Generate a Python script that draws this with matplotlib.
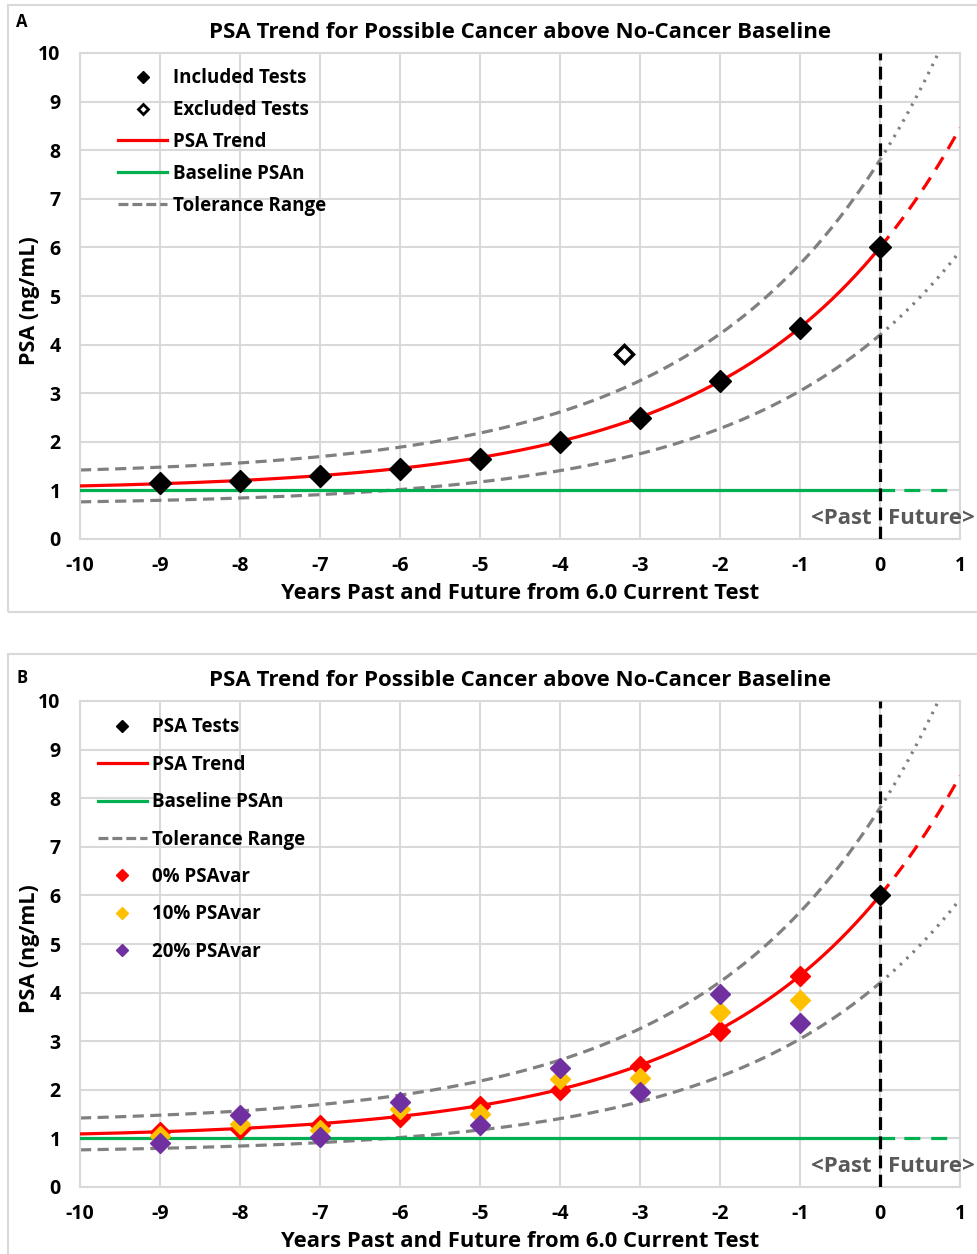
import numpy as np
import matplotlib.pyplot as plt
from matplotlib.lines import Line2D
from matplotlib.patches import Rectangle

plt.rcParams['font.family'] = ['Open Sans', 'DejaVu Sans']
plt.rcParams['font.weight'] = 'bold'
plt.rcParams['axes.unicode_minus'] = False

# ---------------- data ----------------
test_years = [-9, -8, -7, -6, -5, -4, -3, -2, -1, 0]
included_psa = [1.15, 1.2, 1.3, 1.45, 1.65, 2.0, 2.5, 3.25, 4.35, 6.0]
excluded_years = [-3.2]
excluded_psa = [3.8]

var_years = [-9, -8, -7, -6, -5, -4, -3, -2, -1]
psavar_0 = [1.13, 1.2, 1.28, 1.45, 1.67, 2.0, 2.5, 3.22, 4.35]
psavar_10 = [1.05, 1.3, 1.18, 1.6, 1.5, 2.22, 2.25, 3.6, 3.85]
psavar_20 = [0.9, 1.48, 1.02, 1.75, 1.28, 2.45, 1.95, 3.97, 3.38]
current_year = [0]
current_psa = [6.0]

# trend model parameters (exponential rise above baseline)
baseline_psan = 1.0
current_test = 6.0
growth_rate = 0.4
tolerance = 0.3

x_ticks = list(range(-10, 2))
y_ticks = list(range(0, 11))

title = "PSA Trend for Possible Cancer above No-Cancer Baseline"
xlabel = "Years Past and Future from 6.0 Current Test"
ylabel = "PSA (ng/mL)"

RED = '#FF0000'
GREEN = '#00B050'
GRAY = '#808080'
YELLOW = '#FFC000'
PURPLE = '#7030A0'
GRID = '#D9D9D9'


def trend(x):
    return baseline_psan + (current_test - baseline_psan) * np.exp(growth_rate * x)


x_past = np.linspace(-10, 0, 300)
x_fut = np.linspace(0, 1, 100)

W, H = 977, 1254
fig = plt.figure(figsize=(W / 100, H / 100), dpi=100)

# panel frames
fig.patches.append(Rectangle((8 / W, 1 - 612 / H), 1.2, (612 - 5) / H,
                             transform=fig.transFigure, fill=False,
                             edgecolor=GRID, linewidth=1.5))
fig.patches.append(Rectangle((8 / W, -0.1), 1.2, 0.1 + 1 - 654 / H,
                             transform=fig.transFigure, fill=False,
                             edgecolor=GRID, linewidth=1.5))

axA = fig.add_axes([80 / W, 1 - 539 / H, 880 / W, 486 / H])
axB = fig.add_axes([80 / W, 1 - 1187 / H, 880 / W, 486 / H])


def base_axes(ax, letter, letter_y):
    ax.set_xlim(-10, 1)
    ax.set_ylim(0, 10)
    ax.set_xticks(x_ticks)
    ax.set_yticks(y_ticks)
    ax.grid(True, color=GRID, linewidth=1.5)
    ax.set_axisbelow(True)
    for s in ax.spines.values():
        s.set_color(GRID)
        s.set_linewidth(1.5)
    ax.tick_params(length=0, labelsize=14, pad=12)
    ax.tick_params(axis='y', pad=14)
    for lab in ax.get_xticklabels() + ax.get_yticklabels():
        lab.set_fontweight('bold')
    ax.set_xlabel(xlabel, fontsize=15.8, fontweight='bold', labelpad=5)
    ax.set_ylabel(ylabel, fontsize=15.5, fontweight='bold')
    ax.yaxis.set_label_coords(-0.046, 0.49)
    ax.set_title(title, fontsize=16, fontweight='bold', pad=11)
    fig.text(22 / W, 1 - letter_y / H, letter, fontsize=12, fontweight='bold',
             ha='center', va='center')

    # curves
    ax.plot(x_past, trend(x_past) * (1 + tolerance), color=GRAY, lw=2.3,
            dashes=(3.5, 2), zorder=2)
    ax.plot(x_past, trend(x_past) * (1 - tolerance), color=GRAY, lw=2.3,
            dashes=(3.5, 2), zorder=2)
    ax.plot(x_fut, trend(x_fut) * (1 + tolerance), color=GRAY, lw=2.3,
            dashes=(0.8, 2), zorder=2)
    ax.plot(x_fut, trend(x_fut) * (1 - tolerance), color=GRAY, lw=2.3,
            dashes=(0.8, 2), zorder=2)
    ax.plot([-10, 0.16], [baseline_psan, baseline_psan], color=GREEN, lw=2.3,
            zorder=3)
    ax.plot([0.16, 0.85], [baseline_psan, baseline_psan], color=GREEN, lw=2.3,
            ls=(5, (5, 3.4)), dash_capstyle='butt', zorder=3)
    ax.plot(x_past, trend(x_past), color=RED, lw=2.3, zorder=4)
    ax.plot(x_fut, trend(x_fut), color=RED, lw=2.3, dashes=(4.5, 3), zorder=4)
    ax.plot([0, 0], [0, 10], color='black', lw=2.3, dashes=(4, 2), zorder=5)
    ax.text(-0.1, 0.42, "<Past", color='#595959', fontsize=16,
            fontweight='bold', ha='right', va='center')
    ax.text(0.1, 0.42, "Future>", color='#595959', fontsize=16,
            fontweight='bold', ha='left', va='center')


base_axes(axA, 'A', 22)
base_axes(axB, 'B', 678)

# ---- panel A points ----
axA.plot(test_years, included_psa, 'D', color='black', ms=11, zorder=6)
axA.plot(excluded_years, excluded_psa, 'D', mfc='white', mec='black',
         mew=2.5, ms=9.5, zorder=6)

legA = [
    Line2D([], [], marker='D', color='black', ls='none', ms=6.5),
    Line2D([], [], marker='D', mfc='white', mec='black', mew=2, ls='none', ms=5.5),
    Line2D([], [], color=RED, lw=2.3),
    Line2D([], [], color=GREEN, lw=2.3),
    Line2D([], [], color=GRAY, lw=2.3, dashes=(3.1, 1.25)),
]
labA = ["Included Tests", "Excluded Tests", "PSA Trend", "Baseline PSAn",
        "Tolerance Range"]
axA.legend(legA, labA, loc='upper left', bbox_to_anchor=(0.035, 0.984),
           frameon=False, fontsize=13.5, handlelength=2.6, handletextpad=0.3,
           labelspacing=0.63, borderaxespad=0)

# ---- panel B points ----
axB.plot(var_years, psavar_0, 'D', color=RED, ms=10.5, zorder=6)
axB.plot(var_years, psavar_10, 'D', color=YELLOW, ms=10.5, zorder=7)
axB.plot(var_years, psavar_20, 'D', color=PURPLE, ms=10.5, zorder=8)
axB.plot(current_year, current_psa, 'D', color='black', ms=10.5, zorder=8)

legB = [
    Line2D([], [], marker='D', color='black', ls='none', ms=6.5),
    Line2D([], [], color=RED, lw=2.3),
    Line2D([], [], color=GREEN, lw=2.3),
    Line2D([], [], color=GRAY, lw=2.3, dashes=(3.1, 1.25)),
    Line2D([], [], marker='D', color=RED, ls='none', ms=6.5),
    Line2D([], [], marker='D', color=YELLOW, ls='none', ms=6.5),
    Line2D([], [], marker='D', color=PURPLE, ls='none', ms=6.5),
]
labB = ["PSA Tests", "PSA Trend", "Baseline PSAn", "Tolerance Range",
        "0% PSAvar", "10% PSAvar", "20% PSAvar"]
axB.legend(legB, labB, loc='upper left', bbox_to_anchor=(0.012, 0.982),
           frameon=False, fontsize=13.5, handlelength=2.6, handletextpad=0.3,
           labelspacing=0.93, borderaxespad=0)

fig.savefig('out.png', dpi=100)
